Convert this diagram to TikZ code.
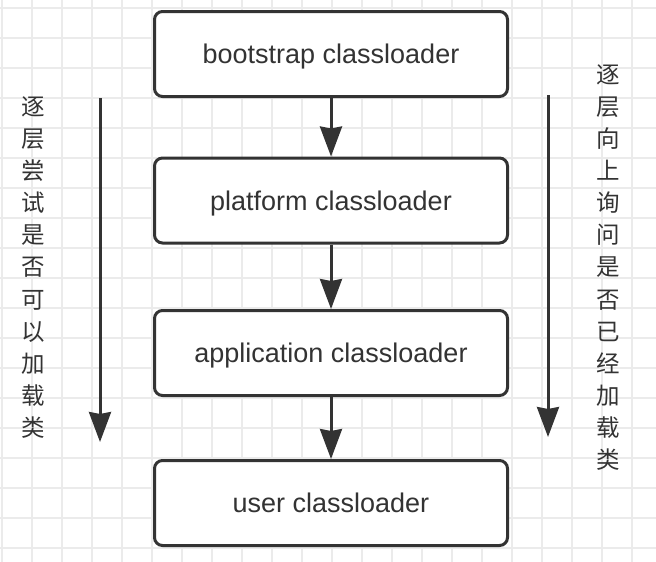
\documentclass[tikz,border=0pt]{standalone}
\usepackage{xcolor}
\usepackage{fontspec}
\setmainfont{Liberation Sans}
\newfontfamily\cjk{Noto Sans CJK SC}
\usepackage{tikz}
\usetikzlibrary{arrows.meta}

\definecolor{inkgray}{HTML}{333333}
\definecolor{gridgray}{HTML}{EBEBEB}

\begin{document}
\begin{tikzpicture}[x=1pt, y=-1pt,
    loader/.style={draw=inkgray, line width=3pt, rounded corners=8pt, fill=white,
        minimum width=353pt, minimum height=85pt, inner sep=0pt,
        text height=23pt, text depth=4pt, text=inkgray, font=\fontsize{27}{30}\selectfont},
    flow/.style={draw=inkgray, line width=3pt, -{Stealth[length=30pt, width=22pt, inset=2pt]}},
    side/.style={align=center, text=inkgray, font=\cjk\fontsize{23.5}{32.1}\selectfont}]
            \useasboundingbox (0,0) rectangle (656,562);

            % Grid
            \foreach \gx in {0,...,21}
                \draw[gridgray, line width=2pt] ({1.5+30*\gx},0) -- ({1.5+30*\gx},562);
            \foreach \gy in {0,...,18}
                \draw[gridgray, line width=2pt] (0,{8+30*\gy}) -- (656,{8+30*\gy});

            % Loaders
            \node[loader] (boot) at (331,54) {bootstrap classloader};
            \node[loader] (plat) at (331,200.5) {platform classloader};
            \node[loader] (app) at (331,353) {application classloader};
            \node[loader] (user) at (331,503) {user classloader};

            % Side notes
            \node[side] (tryload) at (33,267.5) {逐\\层\\尝\\试\\是\\否\\可\\以\\加\\载\\类};
            \node[side] (askup) at (608,267.5) {逐\\层\\向\\上\\询\\问\\是\\否\\已\\经\\加\\载\\类};
            \coordinate (ltop) at (100,98);
            \coordinate (lbot) at (100,442);
            \coordinate (rtop) at (548,95);
            \coordinate (rbot) at (548,437);

            % Arrows
            \draw[flow] (boot) -- (plat);
            \draw[flow] (plat) -- (app);
            \draw[flow] (app) -- (user);
            \draw[flow] (ltop) -- (lbot);
            \draw[flow] (rtop) -- (rbot);
        \end{tikzpicture}
\end{document}
